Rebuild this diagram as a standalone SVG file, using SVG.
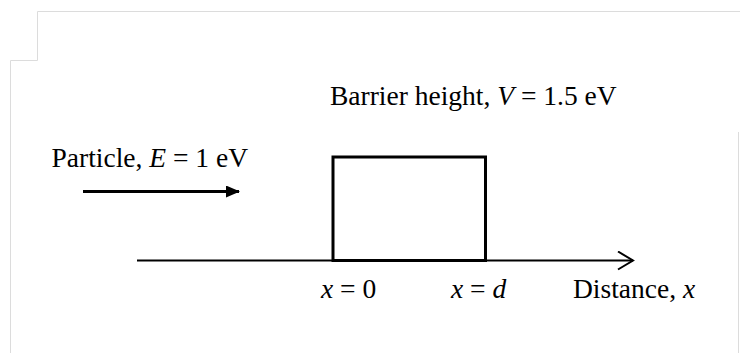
<svg xmlns="http://www.w3.org/2000/svg" width="740" height="353" viewBox="0 0 740 353">
<defs>
<style>
text{font-family:"Liberation Serif","Times New Roman",serif;font-size:27.5px;fill:#000}
.it{font-style:italic}
.frame{fill:none;stroke:#dcdcdc;stroke-width:1}
</style>
<marker id="solid" viewBox="0 0 14 12" refX="13" refY="6" markerWidth="14" markerHeight="12" markerUnits="userSpaceOnUse" orient="auto">
<path d="M0,0 L14,6 L0,12 Z" fill="#000"/>
</marker>
<marker id="open" viewBox="0 0 18 20" refX="16" refY="10" markerWidth="18" markerHeight="20" markerUnits="userSpaceOnUse" orient="auto">
<path d="M1,1 L16,10 L1,19" fill="none" stroke="#000" stroke-width="2"/>
</marker>
</defs>
<rect width="740" height="353" fill="#fff"/>
<path class="frame" d="M740,11.5 H37.5 V60.5 H10.5 V353"/>
<path class="frame" d="M738.5,132 V353"/>
<g id="connectors">
<line x1="137" y1="260.5" x2="633" y2="260.5" stroke="#000" stroke-width="2" marker-end="url(#open)"/>
<line x1="83" y1="191.5" x2="239" y2="191.5" stroke="#000" stroke-width="3" marker-end="url(#solid)"/>
</g>
<g id="barrier">
<rect x="333" y="157" width="152.5" height="103.5" fill="none" stroke="#000" stroke-width="3"/>
</g>
<g id="barrier-label">
<text x="330" y="105">Barrier height, <tspan class="it">V</tspan> = 1.5 eV</text>
</g>
<g id="particle-label">
<text x="51.5" y="167">Particle, <tspan class="it">E</tspan> = 1 eV</text>
</g>
<g id="x0-label">
<text x="321" y="298"><tspan class="it">x</tspan> = 0</text>
</g>
<g id="xd-label">
<text x="451" y="298"><tspan class="it">x</tspan> = <tspan class="it">d</tspan></text>
</g>
<g id="distance-label">
<text x="573" y="298">Distance, <tspan class="it">x</tspan></text>
</g>
</svg>
